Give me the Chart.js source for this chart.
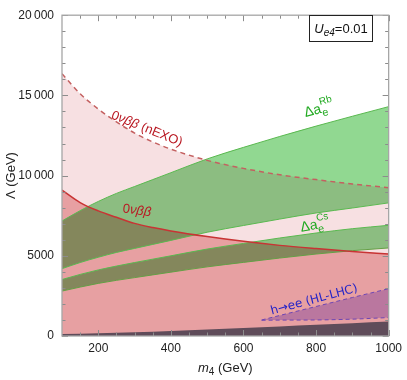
<!DOCTYPE html>
<html><head><meta charset="utf-8">
<script src="https://cdn.jsdelivr.net/npm/chart.js@4.4.1/dist/chart.umd.min.js"></script>
<style>html,body{margin:0;padding:0;background:#fff;}#wrap{width:407px;height:380px;}</style>
</head><body><div id="wrap"><canvas id="c" width="407" height="380"></canvas></div>
<script>
// ---- data ----
const massGrid   = [100,150,200,250,300,350,400,500,600,700,800,900,1000];
const nexoLimit  = [16350,15100,14150,13350,12650,12100,11650,10950,10450,10050,9750,9480,9250];
const nonuLimit  = [9100,8320,7800,7400,7020,6760,6550,6200,5900,5650,5450,5270,5110];
const rbLower    = [4200,4580,4910,5210,5460,5710,5960,6470,6890,7290,7670,7980,8300];
const rbUpper    = [7170,7815,8390,8890,9320,9750,10180,11040,11760,12440,13085,13700,14300];
const csLower    = [2800,3050,3280,3470,3640,3810,3980,4310,4590,4860,5110,5320,5490];
const csUpper    = [3520,3840,4120,4360,4580,4790,5000,5420,5770,6110,6420,6690,6900];
const heeMass    = [650,700,800,900,1000];
const heeUpper   = [1000,1280,1840,2400,2950];
const heeLower   = [980,990,1000,1050,1150];
const grayMass   = [100,200,300,400,500,600,700,800,900,1000];
const grayLimit  = [120,170,230,310,400,500,600,700,800,900];
const xMajorTicks = [200,400,600,800,1000];
const xMinorTicks = [150,250,300,350,450,500,550,650,700,750,850,900,950];
const yMajorTicks = [0,5000,10000,15000,20000];
const yMinorTicks = [1000,2000,3000,4000,6000,7000,8000,9000,11000,12000,13000,14000,16000,17000,18000,19000];

const pts = (xs, ys) => xs.map((x, i) => ({x: x, y: ys[i]}));
const FONT = '"Liberation Sans", Arial, sans-serif';

function fillDs(label, xs, ys, color, fill) {
  return {label, data: pts(xs, ys), backgroundColor: color, borderColor: 'rgba(0,0,0,0)', borderWidth: 0,
    pointRadius: 0, fill: fill, blend: 'multiply', order: 10, cubicInterpolationMode: 'monotone'};
}
function boundDs(label, xs, ys) {
  return {label, data: pts(xs, ys), backgroundColor: 'rgba(0,0,0,0)', borderColor: 'rgba(0,0,0,0)', borderWidth: 0,
    pointRadius: 0, fill: false, blend: 'multiply', order: 10, cubicInterpolationMode: 'monotone'};
}
function lineDs(label, xs, ys, color, width, dash) {
  return {label, data: pts(xs, ys), borderColor: color, borderWidth: width, borderDash: dash || [],
    pointRadius: 0, fill: false, order: 0, cubicInterpolationMode: 'monotone'};
}

const datasets = [
  fillDs('nEXO region', massGrid, nexoLimit, 'rgb(247,224,226)', 'origin'),     //0
  fillDs('0vbb region', massGrid, nonuLimit, 'rgb(239,182,183)', 'origin'),     //1
  boundDs('Rb lower', massGrid, rbLower),                                         //2
  fillDs('Rb band', massGrid, rbUpper, 'rgb(145,216,145)', 2),                   //3
  boundDs('Cs lower', massGrid, csLower),                                         //4
  fillDs('Cs band', massGrid, csUpper, 'rgb(145,216,145)', 4),                   //5
  boundDs('hee lower', heeMass, heeLower),                                        //6
  fillDs('hee band', heeMass, heeUpper, 'rgb(205,190,250)', 6),                  //7
  fillDs('gray', grayMass, grayLimit, 'rgb(104,120,140)', 'origin'),             //8
  lineDs('nEXO line', massGrid, nexoLimit, 'rgb(196,96,96)', 1.5, [5,4]),
  lineDs('0vbb line', massGrid, nonuLimit, 'rgb(200,52,52)', 1.5),
  lineDs('Rb lo line', massGrid, rbLower, 'rgb(90,185,80)', 1),
  lineDs('Rb hi line', massGrid, rbUpper, 'rgb(90,185,80)', 1),
  lineDs('Cs lo line', massGrid, csLower, 'rgb(100,160,70)', 1),
  lineDs('Cs hi line', massGrid, csUpper, 'rgb(90,185,80)', 1),
  lineDs('hee hi line', heeMass, heeUpper, 'rgb(110,70,180)', 1, [4,3]),
  lineDs('hee lo line', heeMass, heeLower, 'rgb(110,70,180)', 1, [4,3]),
];

const blendPlugin = {
  id: 'blend',
  beforeDatasetsDraw(chart) {
    const metas = chart.getSortedVisibleDatasetMetas();
    const first = metas[metas.length - 1];
    chart.ctx.globalCompositeOperation = (first && chart.data.datasets[first.index].blend) || 'source-over';
  },
  afterDatasetDraw(chart, args) {
    const metas = chart.getSortedVisibleDatasetMetas();
    const pos = metas.findIndex(m => m.index === args.index);
    const next = metas[pos - 1];
    chart.ctx.globalCompositeOperation = (next && chart.data.datasets[next.index].blend) || 'source-over';
  },
  afterDatasetsDraw(chart) { chart.ctx.globalCompositeOperation = 'source-over'; }
};

function drawRich(ctx, parts, x, y, angle, align) {
  ctx.save();
  ctx.translate(x, y);
  ctx.rotate(angle * Math.PI / 180);
  let w = 0;
  parts.forEach(p => { ctx.font = p.font; p.w = ctx.measureText(p.t).width; if (!p.noAdvance) w += p.w; });
  let cx = align === 'center' ? -w / 2 : (align === 'right' ? -w : 0);
  ctx.textBaseline = 'alphabetic';
  ctx.textAlign = 'left';
  parts.forEach(p => {
    ctx.font = p.font;
    ctx.fillStyle = p.color;
    ctx.fillText(p.t, cx, p.dy || 0);
    if (!p.noAdvance) cx += p.w;
  });
  ctx.restore();
}

const decoPlugin = {
  id: 'deco',
  afterDraw(chart) {
    const ctx = chart.ctx, a = chart.chartArea, xs = chart.scales.x, ys = chart.scales.y;
    ctx.save();
    ctx.strokeStyle = '#8c8c8c';
    ctx.lineWidth = 1;
    const tick = (len, vals, axis) => {
      vals.forEach(v => {
        ctx.beginPath();
        if (axis === 'x') {
          const px = Math.round(xs.getPixelForValue(v)) + 0.5;
          ctx.moveTo(px, a.bottom); ctx.lineTo(px, a.bottom - len);
          ctx.moveTo(px, a.top); ctx.lineTo(px, a.top + len);
        } else {
          const py = Math.round(ys.getPixelForValue(v)) + 0.5;
          ctx.moveTo(a.left, py); ctx.lineTo(a.left + len, py);
          ctx.moveTo(a.right, py); ctx.lineTo(a.right - len, py);
        }
        ctx.stroke();
      });
    };
    tick(6, xMajorTicks, 'x'); tick(3.5, xMinorTicks, 'x');
    tick(6, yMajorTicks, 'y'); tick(3.5, yMinorTicks, 'y');
    ctx.strokeStyle = '#a6a6a6';
    ctx.lineWidth = 1.3;
    ctx.strokeRect(a.left, a.top, a.right - a.left, a.bottom - a.top);
    ctx.restore();

    const P = (x, y) => [xs.getPixelForValue(x), ys.getPixelForValue(y)];
    const red = 'rgb(185,25,35)', green = 'rgb(35,170,35)', blue = 'rgb(35,35,200)';
    const f13 = '13px ' + FONT, i13 = 'italic 13px ' + FONT, f10 = '10px ' + FONT, i10 = 'italic 10px ' + FONT;
    let p;
    p = P(330, 12950);
    drawRich(ctx, [{t: '0', font: f13, color: red}, {t: 'νββ', font: i13, color: red}, {t: ' (nEXO)', font: f13, color: red}], p[0], p[1] + 4, 22, 'center');
    p = P(305, 7840);
    drawRich(ctx, [{t: '0', font: f13, color: red}, {t: 'νββ', font: i13, color: red}], p[0], p[1] + 4, 8, 'center');
    p = P(771, 13650);
    drawRich(ctx, [{t: 'Δa', font: '14px ' + FONT, color: green}, {t: 'e', font: '11px ' + FONT, color: green, dy: 4, noAdvance: true}, {t: 'Rb', font: '10px ' + FONT, color: green, dy: -8}], p[0], p[1], -15, 'left');
    p = P(759, 6500);
    drawRich(ctx, [{t: 'Δa', font: '14px ' + FONT, color: green}, {t: 'e', font: '11px ' + FONT, color: green, dy: 4, noAdvance: true}, {t: 'Cs', font: '10px ' + FONT, color: green, dy: -8}], p[0], p[1], -10, 'left');
    p = P(797, 2310);
    drawRich(ctx, [{t: 'h→ee (HL-LHC)', font: '12px "DejaVu Sans", ' + FONT, color: blue}], p[0], p[1] + 4, -15, 'center');

    ctx.save();
    ctx.fillStyle = '#fff';
    ctx.fillRect(309, 15, 64, 27);
    ctx.strokeStyle = '#222';
    ctx.lineWidth = 1;
    ctx.strokeRect(309.5, 15.5, 63, 26);
    ctx.restore();
    drawRich(ctx, [{t: 'U', font: i13, color: '#111'}, {t: 'e4', font: i10, color: '#111', dy: 3}, {t: '=0.01', font: f13, color: '#111'}], 341, 33, 0, 'center');

    const xc = (a.left + a.right) / 2;
    drawRich(ctx, [{t: 'm', font: i13, color: '#222'}, {t: '4', font: f10, color: '#222', dy: 3}, {t: ' (GeV)', font: f13, color: '#222'}], xc, 372, 0, 'center');
    drawRich(ctx, [{t: 'Λ (GeV)', font: f13, color: '#222'}], 15, (a.top + a.bottom) / 2, -90, 'center');
  }
};

const fmtY = v => v >= 10000 ? String(Math.floor(v / 1000)) + '\u2009' + '000' : String(v);

new Chart(document.getElementById('c'), {
  type: 'line',
  data: {datasets: datasets},
  options: {
    responsive: false, animation: false, devicePixelRatio: 1,
    layout: {padding: {top: 7, right: 16, left: 0, bottom: 0}},
    plugins: {legend: {display: false}, tooltip: {enabled: false}},
    scales: {
      x: {type: 'linear', min: 100, max: 1000,
        afterBuildTicks: s => { s.ticks = xMajorTicks.map(v => ({value: v})); },
        ticks: {font: {size: 12, family: FONT}, color: '#222', padding: 5, maxRotation: 0, autoSkip: false, callback: v => String(v)},
        grid: {display: false, drawTicks: false}, border: {display: false},
        afterFit: s => { s.height = 44; }},
      y: {type: 'linear', min: 0, max: 20000,
        afterBuildTicks: s => { s.ticks = yMajorTicks.map(v => ({value: v})); },
        ticks: {font: {size: 12, family: FONT}, color: '#222', padding: 8, callback: v => fmtY(v)},
        grid: {display: false, drawTicks: false}, border: {display: false},
        afterFit: s => { s.width = 62; }}
    }
  },
  plugins: [blendPlugin, decoPlugin]
});
</script></body></html>
